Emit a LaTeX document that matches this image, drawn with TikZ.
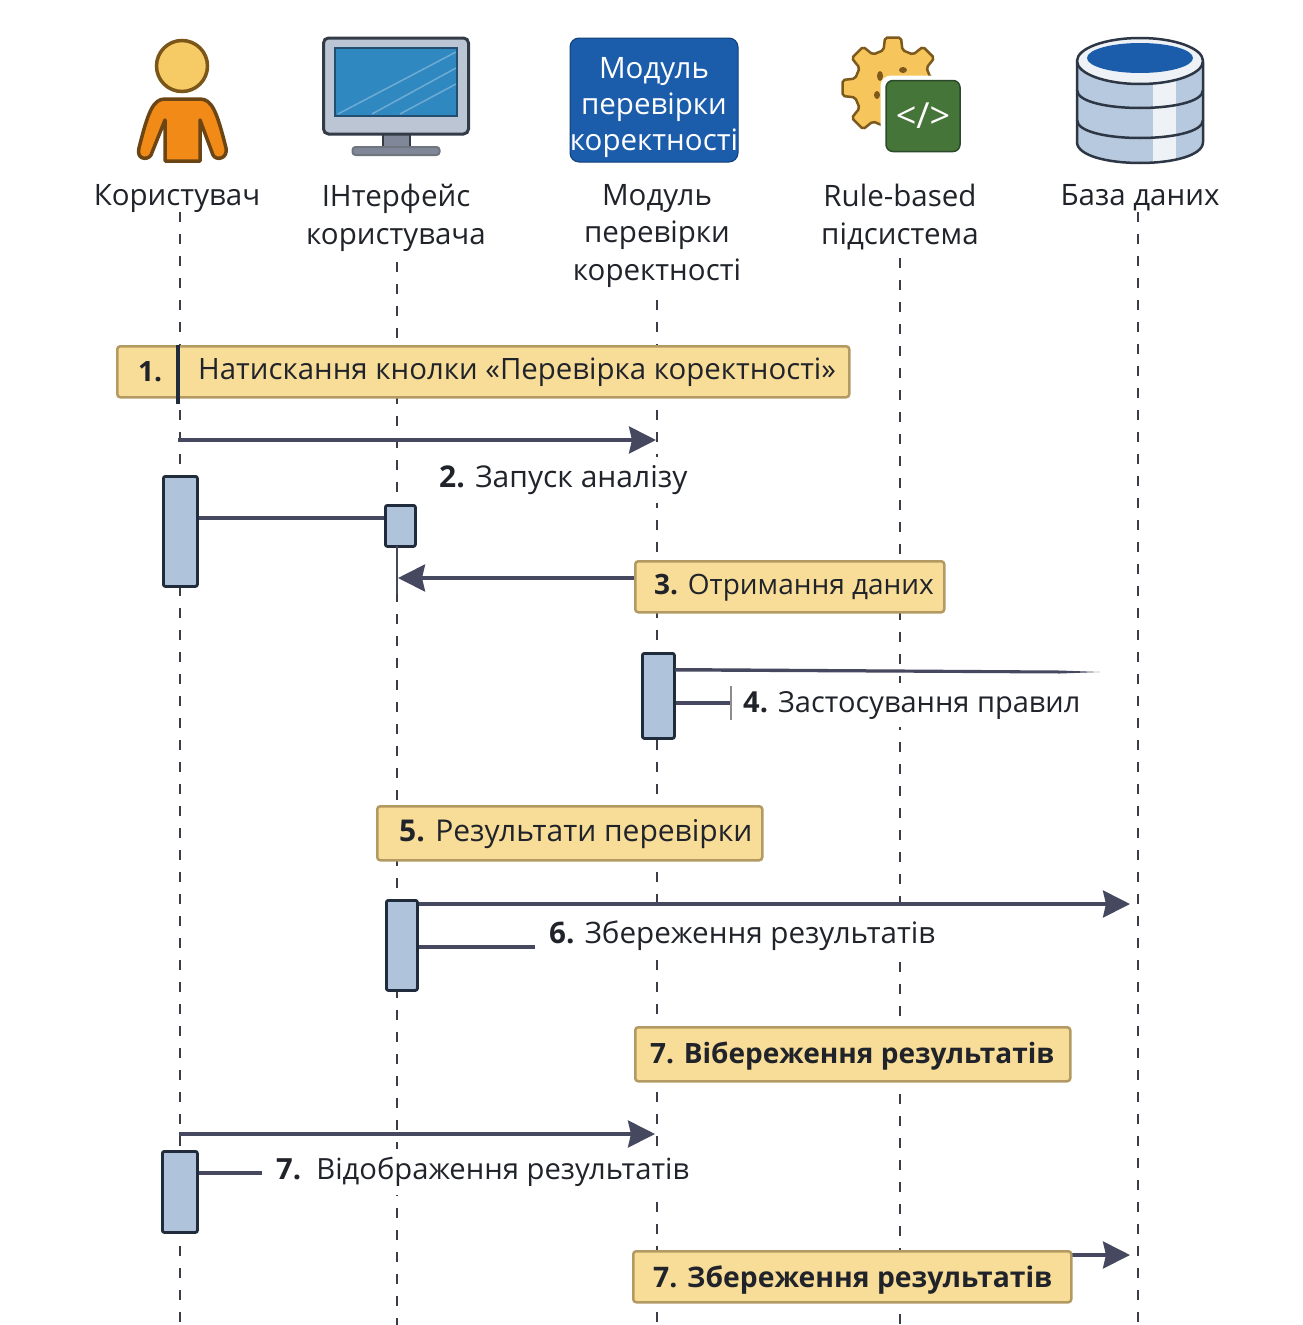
\documentclass[tikz,border=0pt]{standalone}
\usepackage{fontspec}
\setmainfont{Open Sans}
\usetikzlibrary{arrows.meta}
\definecolor{boxfill}{HTML}{F8DD98}
\definecolor{boxedge}{HTML}{B39A62}
\definecolor{actfill}{HTML}{AFC4DB}
\definecolor{actedge}{HTML}{202C3C}
\definecolor{msgcol}{HTML}{45485F}
\definecolor{txt}{HTML}{20232A}
\definecolor{lifecol}{HTML}{3A3D46}
\definecolor{bodyfill}{HTML}{F28A17}
\definecolor{bodyedge}{HTML}{6B4514}
\definecolor{headfill}{HTML}{F6CB66}
\definecolor{headedge}{HTML}{7A5618}
\definecolor{monfill}{HTML}{BCC5D3}
\definecolor{monedge}{HTML}{333B47}
\definecolor{screenfill}{HTML}{2F88BF}
\definecolor{screenedge}{HTML}{234E70}
\definecolor{standfill}{HTML}{7F8799}
\definecolor{modfill}{HTML}{1B5CAB}
\definecolor{modedge}{HTML}{123F78}
\definecolor{gearfill}{HTML}{F6C65C}
\definecolor{gearedge}{HTML}{7D5A1C}
\definecolor{codefill}{HTML}{467539}
\definecolor{codeedge}{HTML}{2A4A2A}
\definecolor{dbfill}{HTML}{B7C9DE}
\definecolor{dblight}{HTML}{EEF2F6}
\definecolor{dbedge}{HTML}{2C3644}
\tikzset{
 x=1pt,y=-1pt,
 lifeline/.style={draw=lifecol,line width=2.6pt,dash pattern=on 10pt off 12pt},
 head/.style={text=txt,align=center,font=\fontsize{29.5}{37.5}\selectfont,inner sep=0pt},
 notebox/.style={draw=boxedge,fill=boxfill,line width=2.5pt,rounded corners=3pt,inner sep=0pt,anchor=north west},
 notetext/.style={anchor=west,text=txt,font=\fontsize{29.6}{32}\selectfont,inner sep=0pt},
 steplabel/.style={fill=white,text=txt,font=\fontsize{29.6}{32}\selectfont,inner xsep=4pt,inner ysep=8pt,anchor=west},
 actbox/.style={draw=actedge,fill=actfill,line width=2.8pt,rounded corners=2pt,inner sep=0pt,anchor=north west},
 msg/.style={draw=msgcol,line width=3.5pt,-{Stealth[length=27pt,width=27pt,inset=3pt]}},
 plainmsg/.style={draw=msgcol,line width=3.5pt},
}
\begin{document}
\begin{tikzpicture}
\path[use as bounding box,fill=white] (0,0) rectangle (1302,1325);
% lifelines
\coordinate (u0) at (180,212); \coordinate (u1) at (180,1325);
\coordinate (i0) at (397,262); \coordinate (i1) at (397,1325);
\coordinate (m0) at (657,300); \coordinate (m1) at (657,1325);
\coordinate (r0) at (900,258); \coordinate (r1) at (900,1325);
\coordinate (d0) at (1138,212); \coordinate (d1) at (1138,1325);
\draw[lifeline] (u0)--(u1);
\draw[lifeline] (i0)--(i1);
\draw[lifeline] (m0)--(m1);
\draw[lifeline] (r0)--(r1);
\draw[lifeline] (d0)--(d1);
% person icon
\draw[draw=bodyedge,fill=bodyfill,line width=3.5pt,line join=round]
 (165,99) -- (200,99) .. controls (212,99) and (217,112) .. (226,148)
 .. controls (228,159) and (216,161) .. (213,155) -- (200,120) -- (200,161) -- (165,161) -- (165,120)
 -- (151,155) .. controls (147,161) and (136,159) .. (139,148) .. controls (148,112) and (153,99) .. (165,99) -- cycle;
\node[draw=headedge,fill=headfill,line width=3.5pt,inner sep=0pt,circle,minimum size=51pt] (headicon) at (182,66) {};
% monitor icon
\node[draw=monedge,fill=standfill,line width=2pt,minimum width=27pt,minimum height=14pt,inner sep=0pt] (stand) at (396,140) {};
\node[draw=monedge!70,fill=standfill,line width=2pt,rounded corners=3pt,minimum width=87pt,minimum height=8pt,inner sep=0pt] (base) at (396,151) {};
\node[draw=monedge,fill=monfill,line width=3pt,rounded corners=5pt,minimum width=145pt,minimum height=96pt,inner sep=0pt] (mon) at (396,86) {};
\node[draw=screenedge,fill=screenfill,line width=1.5pt,minimum width=122pt,minimum height=68pt,inner sep=0pt] (screen) at (396,82) {};
\draw[white,line width=1.5pt,opacity=.3] (338,114)--(456,52) (372,114)--(456,68) (400,114)--(456,84);
% module icon
\node[draw=modedge,fill=modfill,line width=1pt,rounded corners=9pt,minimum width=168pt,minimum height=124pt,inner sep=0pt] (modicon) at (654,100) {};
\node[inner sep=0pt,text=white,align=center,font=\fontsize{29.5}{36}\selectfont] (modtext) at (654,108) {Модуль\\перевірки\\коректності};
% gear icon
\begin{scope}[shift={(893,88)}]
\draw[draw=gearedge,fill=gearfill,line width=2.5pt,line join=round,rounded corners=2pt]
 (-14:39) \foreach \a in {0,45,...,315} { -- ({\a-14}:39) -- ({\a-9}:51) -- ({\a+9}:51) -- ({\a+14}:39) } -- cycle;
\fill[gearedge] (-13,-12) ellipse (3pt and 5pt) (-16,7) ellipse (3pt and 4pt) (10,-18) ellipse (4pt and 3pt);
\end{scope}
\node[draw=white,line width=5pt,fill=white,rounded corners=8pt,minimum width=80pt,minimum height=76pt,inner sep=0pt] (codehalo) at (923,116) {};
\node[draw=codeedge,fill=codefill,line width=1.5pt,rounded corners=7pt,minimum width=74pt,minimum height=71pt,inner sep=0pt,text=white,font=\fontsize{36}{40}\selectfont] (codeicon) at (923,116) {</>};
% database icon
\fill[dbfill] (1077,62) -- (1077,142) .. controls (1077,170) and (1203,170) .. (1203,142) -- (1203,62) -- cycle;
\begin{scope}
\clip (1077,62) -- (1077,142) .. controls (1077,170) and (1203,170) .. (1203,142) -- (1203,62) -- cycle;
\fill[dblight] (1153,70) rectangle (1176,170);
\end{scope}
\draw[draw=dbedge,line width=2.5pt] (1077,90) .. controls (1077,114) and (1203,114) .. (1203,90);
\draw[draw=dbedge,line width=2.5pt] (1077,120) .. controls (1077,144) and (1203,144) .. (1203,120);
\draw[draw=dbedge,line width=2.5pt] (1077,62) -- (1077,142) .. controls (1077,170) and (1203,170) .. (1203,142) -- (1203,62);
\draw[draw=dbedge,fill=dblight,line width=2.5pt] (1140,61) ellipse (63pt and 23pt);
\fill[modfill] (1140,58) ellipse (53pt and 15pt);
% headers
\node[head] (hu) at (177,199) {Користувач};
\node[head,anchor=north] (hi) at (396,184) {ІНтерфейс\\користувача};
\node[head,anchor=north] (hm) at (657,184) {Модуль\\перевірки\\коректності};
\node[head,anchor=north] (hr) at (900,184) {Rule-based\\підсистема};
\node[head] (hd) at (1140,198) {База даних};
% step 1
\node[notebox,minimum width=732pt,minimum height=51pt] (b1) at (116,345) {};
\node[notetext,anchor=center,font=\fontsize{28}{32}\bfseries\selectfont] (n1) at (150,372) {1.};
\node[notetext,font=\fontsize{29.4}{32}\selectfont] (t1) at (198,372) {Натискання кнолки «Перевірка коректності»};
\coordinate (dv0) at (178,345); \coordinate (dv1) at (178,404);
\draw[draw=actedge,line width=3.5pt] (dv0)--(dv1);
% message 1 -> step 2
\coordinate (a1s) at (178,440); \coordinate (a1e) at (656,440);
\draw[msg] (a1s)--(a1e);
\node[steplabel,inner xsep=8pt,font=\fontsize{30}{32}\selectfont] (t2) at (431,480) {\textbf{2.} Запуск аналізу};
% activations and links
\node[actbox,minimum width=34pt,minimum height=110pt] (act1) at (162,475) {};
\node[actbox,minimum width=30pt,minimum height=41pt] (act2) at (384,504) {};
\draw[plainmsg] (act1.east|-0,518)--(act2.west|-0,518);
\coordinate (ifcs) at (397,546); \coordinate (ifce) at (397,594);
\draw[draw=msgcol,line width=2.5pt] (ifcs)--(ifce);
% step 3
\node[notebox,minimum width=309pt,minimum height=51pt] (b3) at (634,560) {};
\node[notetext,font=\fontsize{28}{32}\selectfont] (t3) at (654,588) {\textbf{3.} Отримання даних};
\coordinate (a3e) at (398,578);
\draw[msg] (b3.west|-a3e)--(a3e);
% step 4
\node[actbox,minimum width=32pt,minimum height=85pt] (act3) at (641,652) {};
\fill[msgcol] (675,668) -- (1060,670.5) -- (1100,672) -- (1060,673.5) -- (675,671.5) -- cycle;
\coordinate (tk) at (731,703);
\node[steplabel,inner xsep=2pt,font=\fontsize{29}{32}\selectfont] (t4) at (741,705) {\textbf{4.} Застосування правил};
\draw[plainmsg] (act3.east|-tk)--(tk);
\coordinate (tk0) at (731,686); \coordinate (tk1) at (731,720);
\draw[draw=black!45,line width=1.5pt] (tk0)--(tk1);
% step 5
\node[notebox,minimum width=385pt,minimum height=54pt] (b5) at (376,805) {};
\node[notetext,font=\fontsize{30}{32}\selectfont] (t5) at (399,834) {\textbf{5.} Результати перевірки};
% step 6
\node[actbox,minimum width=31pt,minimum height=90pt] (act4) at (385,899) {};
\coordinate (a6e) at (1130,904);
\draw[msg] (act4.east|-a6e)--(a6e);
\node[steplabel,inner xsep=14pt] (t6) at (535,936) {\textbf{6.} Збереження результатів};
\draw[plainmsg] (act4.east|-0,947)--(t6.west|-0,947);
% step 7a
\node[notebox,minimum width=435pt,minimum height=54pt] (b7a) at (634,1026) {};
\node[notetext,font=\fontsize{28}{32}\bfseries\selectfont] (t7a) at (650,1056) {7. Вібереження результатів};
% step 7b
\coordinate (a7s) at (179,1134); \coordinate (a7e) at (655,1134);
\draw[msg] (a7s)--(a7e);
\node[actbox,minimum width=35pt,minimum height=81pt] (act5) at (161,1150) {};
\node[steplabel,inner xsep=14pt,font=\fontsize{29.2}{32}\selectfont] (t7b) at (262,1172) {\textbf{7.}\ \ Відображення результатів};
\draw[plainmsg] (act5.east|-0,1173)--(t7b.west|-0,1173);
% step 7c
\coordinate (a8s) at (1060,1255); \coordinate (a8e) at (1130,1255);
\draw[msg] (a8s)--(a8e);
\node[notebox,minimum width=438pt,minimum height=51pt] (b7c) at (632,1250) {};
\node[notetext,font=\fontsize{28.3}{32}\bfseries\selectfont] (t7c) at (653,1280) {7. Збереження результатів};
\end{tikzpicture}
\end{document}
